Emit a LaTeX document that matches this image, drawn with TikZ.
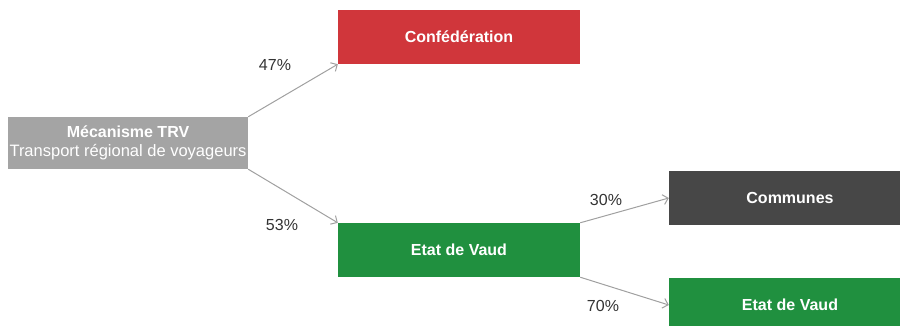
\documentclass[tikz,border=0pt]{standalone}
\usepackage{fontspec}
\setmainfont{Liberation Sans}
\usetikzlibrary{arrows.meta, positioning}
\definecolor{trvgray}{HTML}{A4A4A4}
\definecolor{confred}{HTML}{D0363B}
\definecolor{vaudgreen}{HTML}{20903F}
\definecolor{commgray}{HTML}{474747}
\definecolor{arrowgray}{HTML}{A0A0A0}
\definecolor{pcttext}{HTML}{333333}

\begin{document}
\begin{tikzpicture}[x=1pt,y=-1pt,
 box/.style={minimum width=242pt, minimum height=54pt, inner sep=0pt, text=white, font=\bfseries\fontsize{16}{18}\selectfont},
 flow/.style={draw=arrowgray, line width=1pt, -{Straight Barb[length=5pt,width=10pt]}},
 pct/.style={text=pcttext, font=\fontsize{16}{18}\selectfont}]
 \clip (0,0) rectangle (900,326);
 \node [box, fill=trvgray, minimum width=240pt, minimum height=52pt, align=center] (trv) at (128,143) {M\'ecanisme TRV\\[1pt]{\mdseries\fontsize{16.5}{18}\selectfont Transport r\'egional de voyageurs}};
 \node [box, fill=confred] (conf) at (459,37) {Conf\'ed\'eration};
 \node [box, fill=vaudgreen] (vaud) at (459,250) {Etat de Vaud};
 \node [box, fill=commgray] (comm) at (790,198) {Communes};
 \node [box, fill=vaudgreen] (vaudcom) at (790,305) {Etat de Vaud};
 \draw [flow] (trv.north east) -- (conf.south west);
 \draw [flow] (trv.south east) -- (vaud.north west);
 \draw [flow] (vaud.north east) -- (comm.west);
 \draw [flow] (vaud.south east) -- (vaudcom.west);
 \node [pct] (p47) at (275,65) {47\%};
 \node [pct] (p53) at (282,225) {53\%};
 \node [pct] (p30) at (606,200) {30\%};
 \node [pct] (p70) at (603,306) {70\%};
\end{tikzpicture}
\end{document}
